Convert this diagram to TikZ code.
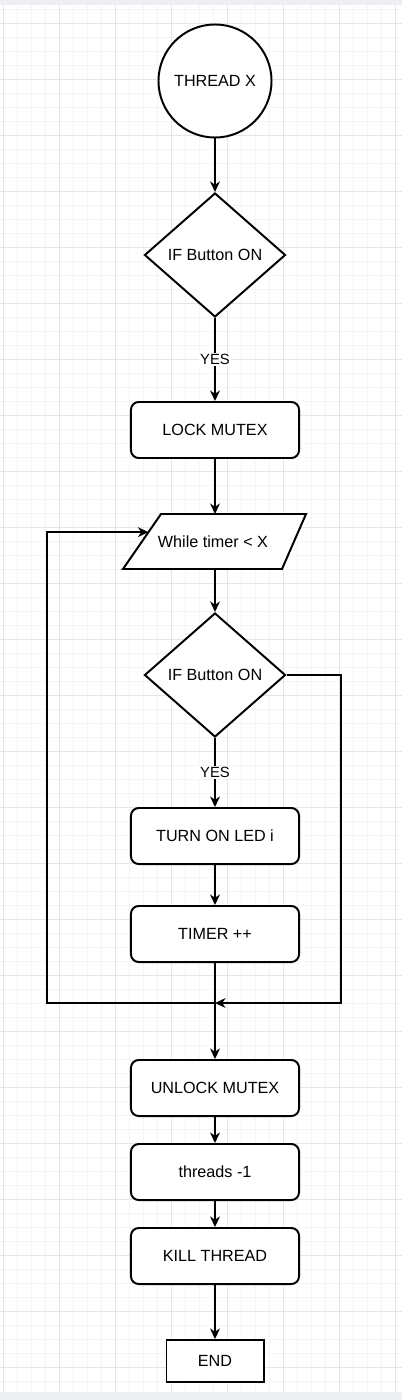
\documentclass[tikz,border=0pt]{standalone}
\usepackage{fontspec}
\setmainfont{Liberation Sans}
\usetikzlibrary{arrows.meta,positioning,shapes.geometric,calc}
\definecolor{gridMinor}{RGB}{245,245,245}
\definecolor{gridMajor}{RGB}{229,229,229}
\definecolor{edgeBand}{RGB}{238,239,242}

\tikzset{
  flowbox/.style={draw, line width=1.4pt, rounded corners=5.5pt, fill=white,
    minimum width=4.2cm, minimum height=1.4cm, inner sep=0pt,
    font=\fontsize{11.5}{13}\selectfont},
  endbox/.style={draw, line width=1.4pt, fill=white,
    minimum width=2.425cm, minimum height=1.05cm, inner sep=0pt,
    font=\fontsize{11.5}{13}\selectfont},
  startcirc/.style={draw, circle, line width=1.4pt, fill=white,
    minimum size=2.825cm, inner sep=0pt, font=\fontsize{11.5}{13}\selectfont},
  decision/.style={draw, diamond, line width=1.4pt, fill=white,
    minimum width=3.525cm, minimum height=3.1cm, inner sep=0pt,
    font=\fontsize{11.5}{13}\selectfont},
  looptext/.style={inner sep=0pt, font=\fontsize{11.5}{13}\selectfont},
  yeslabel/.style={fill=white, inner sep=1pt, font=\fontsize{10.5}{12}\selectfont},
  flow/.style={line width=1.4pt, -{Stealth[length=7.5pt,width=7pt,inset=2.4pt]}}
}

\begin{document}
\begin{tikzpicture}[x=0.025cm,y=-0.025cm]
  \useasboundingbox (0,0) rectangle (402,1400);
  \fill[white] (0,0) rectangle (402,1400);

  % background grid
  \foreach \x in {3,17,...,402}
    \draw[gridMinor, line width=0.5pt] (\x,5) -- (\x,1392);
  \foreach \y in {9,23,...,1392}
    \draw[gridMinor, line width=0.5pt] (0,\y) -- (402,\y);
  \foreach \x in {3,59,...,402}
    \draw[gridMajor, line width=0.6pt] (\x,5) -- (\x,1392);
  \foreach \y in {23,79,...,1392}
    \draw[gridMajor, line width=0.6pt] (0,\y) -- (402,\y);
  \fill[edgeBand] (0,0) rectangle (402,5);
  \fill[edgeBand] (0,1392) rectangle (402,1400);

  % loop header (parallelogram)
  \coordinate (whileTL) at (161,514);
  \coordinate (whileTR) at (306,514);
  \coordinate (whileBR) at (282,569);
  \coordinate (whileBL) at (123,569);
  \fill[white] (whileTL) -- (whileTR) -- (whileBR) -- (whileBL) -- cycle;
  \draw[line width=1.4pt, line join=miter] (whileTL) -- (whileTR) -- (whileBR) -- (whileBL) -- cycle;
  \node[looptext] (while) at (213,542) {While timer < X};
  \coordinate (whileTop) at (215,514);
  \coordinate (whileBottom) at (215,569);
  \coordinate (loopin) at ($(whileBL)!0.67!(whileTL)$);

  % steps
  \node[startcirc] (thread) at (215,81) {THREAD X};
  \node[decision] (button) at (215,255) {IF Button ON};
  \node[flowbox] (lock) at (215,430) {LOCK MUTEX};
  \node[decision] (buttonloop) at (215,675) {IF Button ON};
  \node[flowbox] (led) at (215,836) {TURN ON LED i};
  \node[flowbox] (timer) at (215,934) {TIMER ++};
  \node[flowbox] (unlock) at (215,1088) {UNLOCK MUTEX};
  \node[flowbox] (threads) at (215,1172) {threads -1};
  \node[flowbox] (kill) at (215,1256) {KILL THREAD};
  \node[endbox] (end) at (215,1361) {END};

  \coordinate (join) at (215,1003);
  \coordinate (loopleft) at (47,1003);
  \coordinate (loopright) at (341,1003);

  % connectors
  \draw[flow] (thread) -- (button);
  \draw[flow] (button) -- node[yeslabel] {YES} (lock);
  \draw[flow] (lock) -- (whileTop);
  \draw[flow] (whileBottom) -- (buttonloop);
  \draw[flow] (buttonloop) -- node[yeslabel] {YES} (led);
  \draw[flow] (led) -- (timer);
  \draw[flow] (timer) -- (unlock);
  \draw[flow] (timer.south) -- (join) -- (loopleft) |- (loopin);
  \draw[flow] (buttonloop.east) -| (loopright) -- (join);
  \draw[flow] (unlock) -- (threads);
  \draw[flow] (threads) -- (kill);
  \draw[flow] (kill) -- (end);
\end{tikzpicture}
\end{document}
